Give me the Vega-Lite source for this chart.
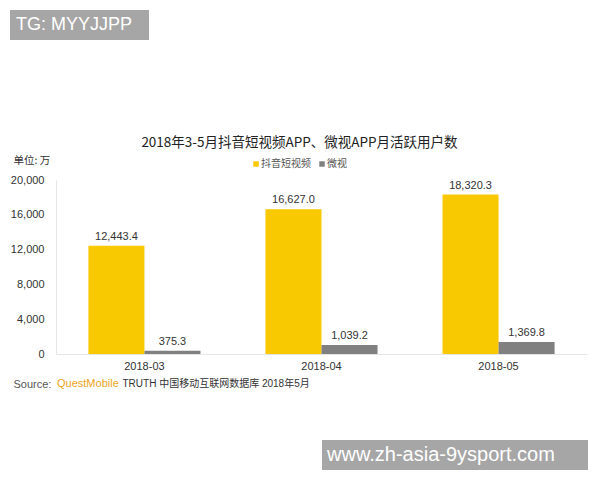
{
  "$schema": "https://vega.github.io/schema/vega-lite/v6.json",
  "width": 531,
  "height": 174,
  "autosize": {"type": "none"},
  "padding": {"left": 56, "top": 180, "right": 13, "bottom": 126},
  "background": "white",
  "config": {"font": "Liberation Sans", "view": {"stroke": null}, "axis": {"labelOverlap": false}},
  "title": {
    "text": "2018年3-5月抖音短视频APP、微视APP月活跃用户数",
    "font": "Noto Sans CJK SC",
    "fontSize": 13.5,
    "fontWeight": "normal",
    "color": "#222222",
    "anchor": "middle",
    "frame": "group",
    "dx": -22,
    "offset": -139
  },
  "data": {
    "values": [
      {"month": "2018-03", "app": "抖音短视频", "value": 12443.4},
      {"month": "2018-03", "app": "微视", "value": 375.3},
      {"month": "2018-04", "app": "抖音短视频", "value": 16627.0},
      {"month": "2018-04", "app": "微视", "value": 1039.2},
      {"month": "2018-05", "app": "抖音短视频", "value": 18320.3},
      {"month": "2018-05", "app": "微视", "value": 1369.8}
    ]
  },
  "layer": [
    {
      "mark": {"type": "bar", "strokeWidth": 0},
      "encoding": {
        "x": {
          "field": "month", "type": "nominal",
          "scale": {"paddingInner": 0.367, "paddingOuter": 0.183},
          "axis": {
            "labelAngle": 0, "labelFontSize": 11, "labelColor": "#333333", "labelPadding": 6,
            "ticks": false, "domainColor": "#e6e6e6", "grid": false,
            "title": "Source:", "titleX": -43, "titleY": 30, "titleAlign": "left", "titleBaseline": "middle",
            "titleFont": "Liberation Sans", "titleFontSize": 11, "titleFontWeight": "normal", "titleColor": "#555555"
          }
        },
        "xOffset": {"field": "app", "type": "nominal", "sort": ["抖音短视频", "微视"], "scale": {"paddingInner": 0, "paddingOuter": 0}},
        "y": {
          "field": "value", "type": "quantitative",
          "scale": {"domain": [0, 20000]},
          "axis": {
            "values": [0, 4000, 8000, 12000, 16000, 20000], "format": ",.0f", "labelOverlap": false,
            "labelFontSize": 11, "labelColor": "#333333", "labelPadding": 12,
            "ticks": false, "domainColor": "#e6e6e6", "grid": false,
            "title": "单位: 万", "titleAngle": 0, "titleX": -43, "titleY": -20,
            "titleAlign": "left", "titleBaseline": "middle", "titleFont": "Noto Sans CJK SC",
            "titleFontSize": 10.5, "titleFontWeight": "normal", "titleColor": "#333333"
          }
        },
        "color": {
          "field": "app", "type": "nominal", "sort": ["抖音短视频", "微视"],
          "scale": {"domain": ["抖音短视频", "微视"], "range": ["#f8c800", "#808080"]},
          "legend": {
            "title": null, "orient": "none", "legendX": 195, "legendY": -21, "direction": "horizontal",
            "symbolType": "square", "symbolSize": 30, "labelFont": "Noto Sans CJK SC", "labelFontSize": 10,
            "labelColor": "#555555", "labelOffset": 0, "columnPadding": 6, "padding": 0
          }
        },
        "stroke": {
          "field": "month", "type": "nominal",
          "legend": {
            "title": null, "orient": "none", "legendX": -46, "legendY": -170,
            "values": ["2018-03"], "labelExpr": "'TG: MYYJJPP\u00a0\u00a0\u200b'",
            "labelFont": "Liberation Sans", "labelFontSize": 18, "labelColor": "#ffffff", "labelLimit": 400,
            "fillColor": "#a6a6a6", "padding": 6, "symbolSize": 0, "symbolOpacity": 0, "symbolStrokeWidth": 0, "labelOffset": -18
          }
        },
        "opacity": {
          "field": "value", "type": "quantitative",
          "scale": {"range": [1, 1]},
          "legend": {
            "title": null, "orient": "none", "legendX": 266, "legendY": 260,
            "values": [1000], "labelExpr": "'www.zh-asia-9ysport.com\u00a0\u00a0\u00a0\u00a0\u00a0\u200b'",
            "labelFont": "Liberation Sans", "labelFontSize": 20, "labelColor": "#ffffff", "labelLimit": 400,
            "fillColor": "#a6a6a6", "padding": 5, "symbolSize": 0, "symbolOpacity": 0, "symbolStrokeWidth": 0, "labelOffset": -20
          }
        },
        "strokeDash": {
          "field": "value", "type": "nominal",
          "legend": {
            "title": "QuestMobile", "titleOrient": "left", "titleFont": "Liberation Sans", "titleFontSize": 11,
            "titleFontWeight": "normal", "titleColor": "#eba31c", "titlePadding": 3.5,
            "orient": "none", "legendX": 1, "legendY": 198.5, "direction": "horizontal",
            "values": [375.3],
            "labelExpr": "'TRUTH 中国移动互联网数据库 2018年5月'",
            "labelFont": "Liberation Sans, Noto Sans CJK SC", "labelFontSize": 10, "labelLimit": 400,
            "labelColor": "#333333", "padding": 0,
            "symbolSize": 0, "symbolOpacity": 0, "symbolStrokeWidth": 0, "labelOffset": -10
          }
        }
      }
    },
    {
      "mark": {"type": "text", "baseline": "bottom", "dy": -4, "fontSize": 11, "color": "#333333"},
      "encoding": {
        "x": {"field": "month", "type": "nominal"},
        "xOffset": {"field": "app", "type": "nominal", "sort": ["抖音短视频", "微视"]},
        "y": {
          "field": "value", "type": "quantitative",
          "axis": {
            "values": [0, 4000, 8000, 12000, 16000, 20000], "format": ",.0f", "labelOverlap": false,
            "labelFontSize": 11, "labelColor": "#333333", "labelPadding": 12,
            "ticks": false, "domainColor": "#e6e6e6", "grid": false,
            "title": "单位: 万", "titleAngle": 0, "titleX": -43, "titleY": -20,
            "titleAlign": "left", "titleBaseline": "middle", "titleFont": "Noto Sans CJK SC",
            "titleFontSize": 10.5, "titleFontWeight": "normal", "titleColor": "#333333"
          }
        },
        "text": {"field": "value", "type": "quantitative", "format": ",.1f"}
      }
    }
  ]
}
